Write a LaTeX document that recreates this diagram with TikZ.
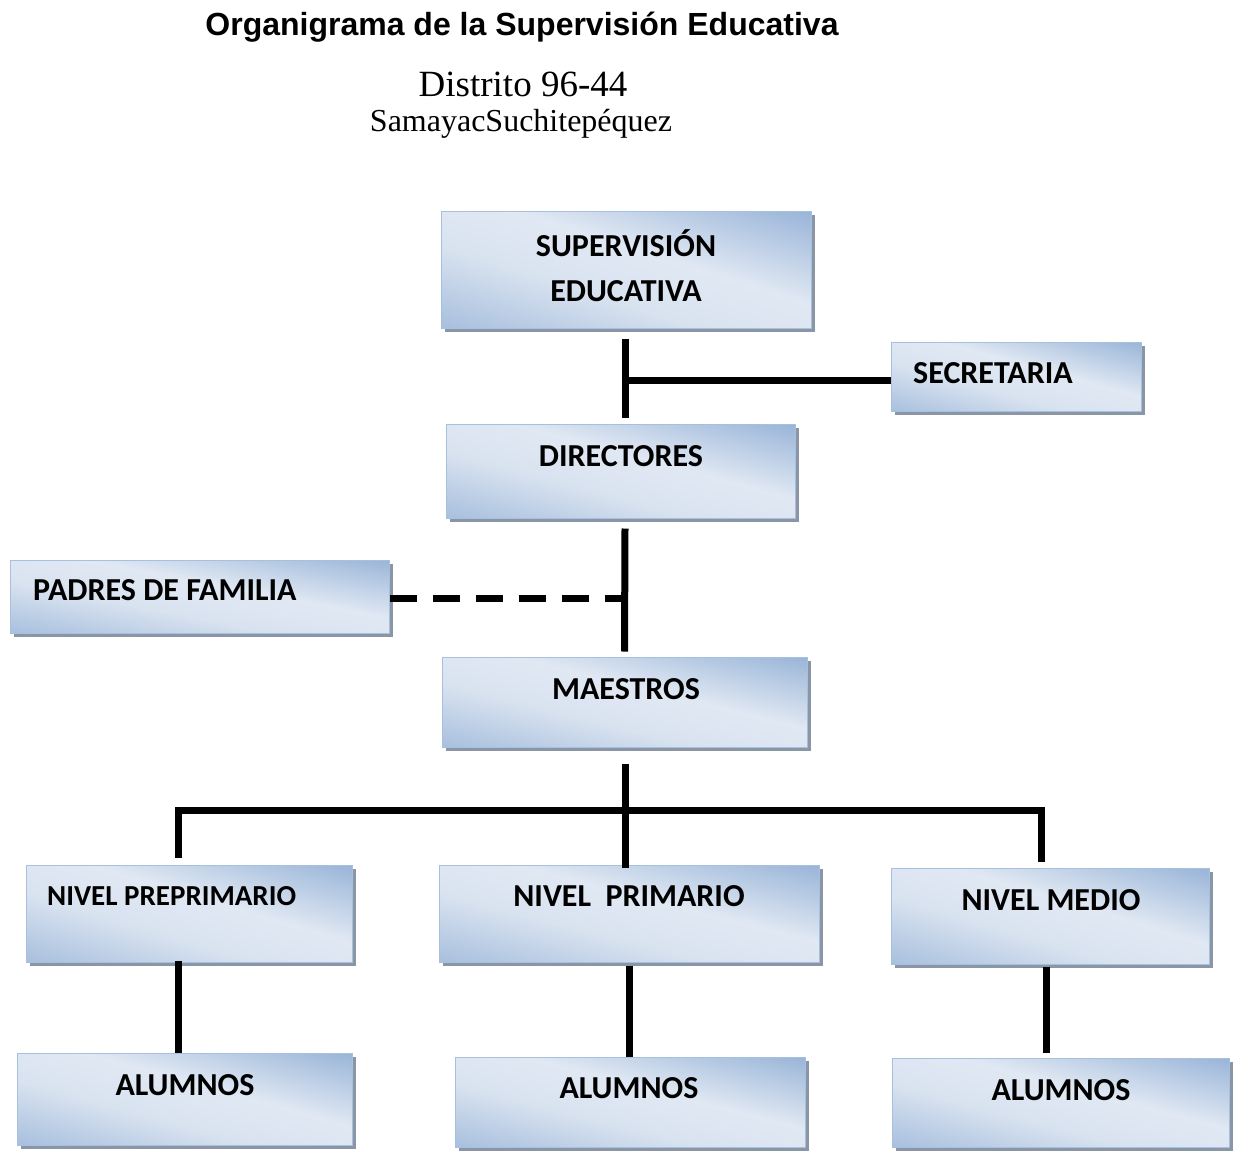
\documentclass[tikz,border=0pt]{standalone}
\usepackage{fontspec}
\setmainfont{Liberation Serif}
\newfontfamily\boxfont{Carlito}
\newfontfamily\titlefont{Liberation Sans}
\definecolor{bdarkA}{HTML}{97B3D7}
\definecolor{bdarkB}{HTML}{A6BEDD}
\definecolor{blightA}{HTML}{D9E3F0}
\definecolor{blightB}{HTML}{E0E8F3}
\definecolor{bedge}{HTML}{A7C0DE}
\definecolor{shad}{HTML}{8A96A6}
\pgfdeclareverticalshading{boxshade}{100bp}{color(0bp)=(bdarkB); color(25bp)=(bdarkB); color(43bp)=(blightA); color(55bp)=(blightB); color(75bp)=(bdarkA); color(100bp)=(bdarkA)}
\tikzset{
  boxb/.style={draw=bedge, line width=1pt, inner sep=0pt},
  lbl/.style={font=\boxfont\bfseries\fontsize{32}{45}\selectfont, align=center, inner sep=0pt},
  conn/.style={line width=7pt, black},
  dconn/.style={conn, dash pattern=on 27pt off 16pt}
}
% name, cx, cy, w, h
\newcommand\obox[5]{%
  \fill[shad] (#2-#4/2+4, #3-#5/2+4) rectangle (#2+#4/2+4, #3+#5/2+4);
  \begin{scope}
    \clip (#2-#4/2, #3-#5/2) rectangle (#2+#4/2, #3+#5/2);
    \pgfmathsetmacro\myslant{-#5/#4}
    \begin{scope}[transform canvas={shift={(#2,#3)}, yslant=\myslant}]
      \shade[shading=boxshade] (-#4/2-2, -#5-2) rectangle (#4/2+2, #5+2);
    \end{scope}
  \end{scope}
  \node[boxb, minimum width=#4pt, minimum height=#5pt] (#1) at (#2,#3) {};
}
\begin{document}
\begin{tikzpicture}[x=1pt,y=-1pt]
\useasboundingbox (0,0) rectangle (1239,1151);
\node[font=\titlefont\bfseries\fontsize{32}{36}\selectfont, inner sep=0pt] (title) at (522,27) {Organigrama de la Supervisión Educativa};
\node[font=\fontsize{37}{40}\selectfont, inner sep=0pt] (dist) at (523,84) {Distrito 96-44};
\node[font=\fontsize{32}{36}\selectfont, inner sep=0pt] (place) at (521,124) {SamayacSuchitepéquez};

% boxes
\obox{sup}{626}{269.5}{370}{117}
\obox{sec}{1016}{376.5}{250}{69}
\obox{dir}{620.5}{471}{349}{94}
\obox{pad}{199.5}{596.5}{379}{73}
\obox{mae}{624.5}{702}{365}{90}
\obox{niv1}{189}{913.5}{326}{97}
\obox{niv2}{629}{913.5}{380}{97}
\obox{niv3}{1050}{916}{318}{96}
\obox{alu1}{184.5}{1099}{335}{92}
\obox{alu2}{630}{1102}{350}{90}
\obox{alu3}{1060.5}{1102.5}{337}{89}

% labels
\node[lbl] (supt) at (626,266) {SUPERVISIÓN\\EDUCATIVA};
\node[lbl, anchor=west] (sect) at (913,373) {SECRETARIA};
\node[lbl] (dirt) at (621,456) {DIRECTORES};
\node[lbl, anchor=west] (padt) at (33,590) {PADRES DE FAMILIA};
\node[lbl] (maet) at (626,689) {MAESTROS};
\node[lbl, anchor=west, font=\boxfont\bfseries\fontsize{29}{40}\selectfont] (niv1t) at (47,896) {NIVEL PREPRIMARIO};
\node[lbl] (niv2t) at (629,896) {NIVEL\ \ PRIMARIO};
\node[lbl] (niv3t) at (1051,900) {NIVEL MEDIO};
\node[lbl] (alu1t) at (185,1085) {ALUMNOS};
\node[lbl] (alu2t) at (629,1088) {ALUMNOS};
\node[lbl] (alu3t) at (1061,1090) {ALUMNOS};

% connectors
\coordinate (bus) at (625,810);
\draw[conn] ([xshift=-1pt,yshift=-10pt]sup.south) -- ([xshift=4.5pt,yshift=6pt]dir.north);
\draw[conn] (625,380) -- (sec.west |- 0,380);
\draw[conn] ([xshift=4.5pt,yshift=-10pt]dir.south) -- ([yshift=5pt]mae.north);
\draw[dconn] (pad.east |- 0,598) -- (625,598);
\draw[conn] ([xshift=0.5pt,yshift=-16pt]mae.south) -- ([xshift=-4pt,yshift=-3pt]niv2.north);
\draw[conn] ([xshift=-11pt,yshift=7pt]niv1.north) -- ([xshift=-11pt]niv1.north |- bus) -- ([xshift=-9pt]niv3.north |- bus) -- ([xshift=-9pt,yshift=6pt]niv3.north);
\draw[conn] ([xshift=-11pt,yshift=2pt]niv1.south) -- ([xshift=-11pt]niv1.south |- alu1.north);
\draw[conn] ([yshift=-3pt]niv2.south) -- ([xshift=-1pt]alu2.north);
\draw[conn] ([xshift=-4pt,yshift=-2pt]niv3.south) -- ([xshift=-4pt,yshift=5pt]niv3.south |- alu3.north);
\end{tikzpicture}
\end{document}
